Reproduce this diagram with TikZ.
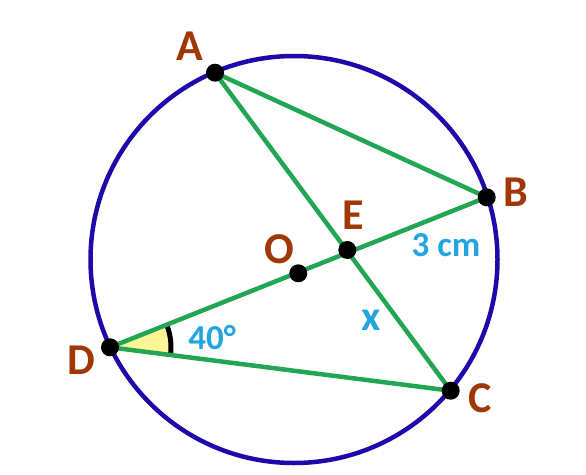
\documentclass[tikz,border=0pt]{standalone}
\usepackage{fontspec}
\setmainfont{Carlito}
\usetikzlibrary{calc}
\definecolor{circ}{RGB}{30,10,170}
\definecolor{grn}{RGB}{34,166,84}
\definecolor{brn}{RGB}{160,55,5}
\definecolor{lbl}{RGB}{35,165,225}
\definecolor{yel}{RGB}{255,245,150}
\begin{document}
\begin{tikzpicture}[x=1pt,y=-1pt,
  seg/.style={grn,line width=4.5pt},
  pt/.style={circle,fill=black,inner sep=0pt,minimum size=18pt},
  ptl/.style={brn,font=\fontsize{44}{44}\selectfont\bfseries},
  meas/.style={lbl,font=\fontsize{35}{35}\selectfont\bfseries}]
\useasboundingbox (0,0) rectangle (586,474);
\coordinate (Oc) at (294,259.5);
\coordinate (pA) at (215,72.7);
\coordinate (pB) at (486.7,197.3);
\coordinate (pC) at (450.7,390.7);
\coordinate (pD) at (110,347.3);
\coordinate (pO) at (298.3,273.3);
\coordinate (pE) at (347.3,250);
% angle
\fill[yel] (pD) -- ($(pD)+(-21.7:61)$) arc[start angle=-21.7,end angle=7.3,radius=61] -- cycle;
\draw[black,line width=5pt] ($(pD)+(-21.7:61)$) arc[start angle=-21.7,end angle=7.3,radius=61];
\draw[circ,line width=4.5pt] (Oc) circle[radius=203.5];
\draw[seg] (pA) -- (pB);
\draw[seg] (pA) -- (pC);
\draw[seg] (pD) -- (pB);
\draw[seg] (pD) -- (pC);
\foreach \p/\n in {pA/A,pB/B,pC/C,pD/D,pO/O,pE/E} \node[pt] (\n) at (\p) {};
\node[ptl] (lA) at (190,46) {A};
\node[ptl] (lB) at (516,192) {B};
\node[ptl] (lC) at (480,398) {C};
\node[ptl] (lD) at (81,360) {D};
\node[ptl] (lE) at (353,215) {E};
\node[ptl] (lO) at (279,249) {O};
\node[meas] (m3) at (446,245) {3 cm};
\node[meas] (m40) at (212,338) {40°};
\node[meas,font=\fontsize{42}{42}\selectfont\bfseries] (mx) at (371,320) {x};
\end{tikzpicture}
\end{document}
